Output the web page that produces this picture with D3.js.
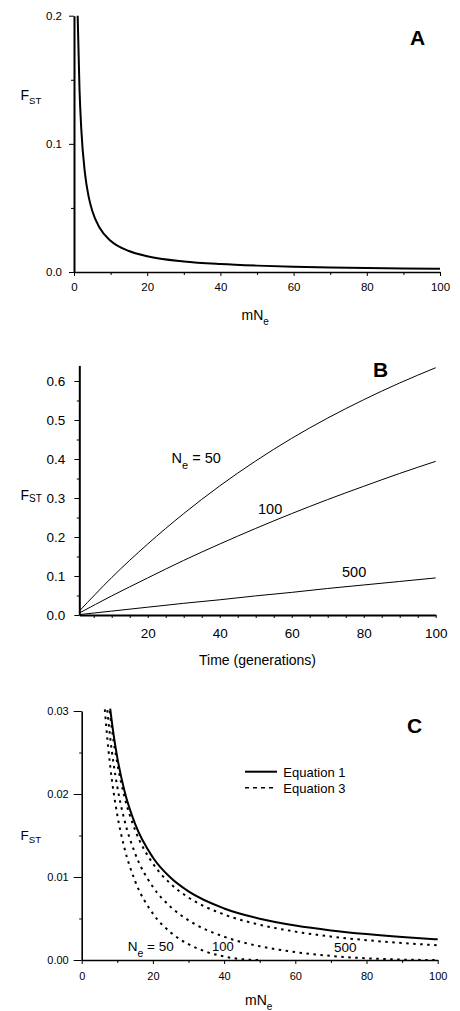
<!DOCTYPE html>
<html><head><meta charset="utf-8">
<script src="https://cdn.jsdelivr.net/npm/d3@7"></script>
<style>
body{margin:0;background:#fff}
svg{display:block}
text{font-family:"Liberation Sans",Arial,sans-serif;fill:#000}
</style>
</head><body>
<svg id="chart" width="460" height="1011"></svg>
<script>
// ---------- Panel A : FST vs mNe ----------
const aMNe = [1,1.5,2,3,4,5,7,10,15,20,30,40,50,60,70,80,90,100];
const aFst = [0.2,0.1429,0.1111,0.0769,0.0588,0.0476,0.0345,0.0244,0.0164,0.01235,0.00826,0.00621,0.004975,0.00415,0.00356,0.00312,0.00277,0.00249];
const aXTicks = [0,20,40,60,80,100];
const aXMinor = [10,30,50,70,90];
const aYTicks = [0.0,0.1,0.2];
const aYMinor = [0.05,0.15];

// ---------- Panel B : FST vs time ----------
const bTime = [1,10,20,30,40,50,60,70,80,90,100];
const bNe50  = [0.010,0.096,0.182,0.260,0.331,0.395,0.453,0.505,0.552,0.595,0.634];
const bNe100 = [0.005,0.049,0.095,0.140,0.182,0.222,0.260,0.296,0.330,0.363,0.394];
const bNe500 = [0.001,0.010,0.020,0.030,0.039,0.049,0.058,0.068,0.077,0.086,0.095];
const bXTicks = [20,40,60,80,100];
const bXMinor = [5,10,15,25,30,35,45,50,55,65,70,75,85,90,95];
const bYTicks = [0.0,0.1,0.2,0.3,0.4,0.5,0.6];
const bYMinor = [0.05,0.15,0.25,0.35,0.45,0.55];
const bLabels = ["100","500"];

// ---------- Panel C : Equation 1 vs Equation 3 ----------
const cEq1MNe = [8,9,10,12,15,20,25,30,40,50,60,70,80,90,100];
const cEq1Fst = [0.0303,0.02703,0.02439,0.0204,0.01639,0.01235,0.0099,0.00826,0.00621,0.004975,0.00415,0.00356,0.00312,0.00277,0.00249];
const cNe50MNe = [6.5,7,8,10,12,15,20,25,30,35,40,45,50];
const cNe50Fst = [0.0302,0.0276,0.0234,0.01747,0.01349,0.00952,0.00559,0.00332,0.0019,0.00099,0.00042,0.0001,0];
const cNe100MNe = [7.2,8,10,12,15,20,25,30,40,50,60,70,80,90,100];
const cNe100Fst = [0.0301,0.0268,0.02087,0.01687,0.01285,0.00881,0.00639,0.00478,0.0028,0.00166,0.00095,0.00049,0.00021,0.00005,0];
const cNe500MNe = [7.9,8,10,12,15,20,25,30,40,50,60,70,80,90,100];
const cNe500Fst = [0.0300,0.0296,0.02368,0.01969,0.01567,0.01162,0.00917,0.00753,0.00548,0.00425,0.00342,0.00283,0.00239,0.00205,0.00177];
const cXTicks = [0,20,40,60,80,100];
const cXMinor = [10,30,50,70,90];
const cYTicks = [0.00,0.01,0.02,0.03];
const cYMinor = [0.005,0.015,0.025];
const cLegend = ["Equation 1","Equation 3"];

const svg = d3.select("#chart");

function drawAxes(g, x, y, o) {
  g.append("g").attr("transform",`translate(0,${y.range()[0]})`)
    .call(d3.axisBottom(x).tickValues(o.xMinor).tickSize(o.xMinorLen).tickFormat("").tickSizeOuter(0))
    .call(s=>s.select(".domain").remove());
  g.append("g").attr("transform",`translate(${x.range()[0]},0)`)
    .call(d3.axisLeft(y).tickValues(o.yMinor).tickSize(o.yMinorLen).tickFormat("").tickSizeOuter(0))
    .call(s=>s.select(".domain").remove());
  const xa = g.append("g").attr("transform",`translate(0,${y.range()[0]})`)
    .call(d3.axisBottom(x).tickValues(o.xTicks).tickSize(o.xTickLen).tickPadding(o.xPad)
      .tickFormat(o.xFmt).tickSizeOuter(0));
  const ya = g.append("g").attr("transform",`translate(${x.range()[0]},0)`)
    .call(d3.axisLeft(y).tickValues(o.yTicks).tickSize(o.yTickLen).tickPadding(o.yPad)
      .tickFormat(o.yFmt).tickSizeOuter(0));
  [xa,ya].forEach(a=>{
    a.selectAll("text").attr("font-family",'"Liberation Sans",Arial,sans-serif').attr("fill","#000");
  });
  xa.selectAll("text").attr("font-size",o.xFont);
  ya.selectAll("text").attr("font-size",o.yFont);
  xa.select(".domain").attr("stroke","#000").attr("stroke-width",o.xAxisW);
  ya.select(".domain").attr("stroke","#000").attr("stroke-width",o.yAxisW);
  g.selectAll(".tick line").attr("stroke","#000").attr("stroke-width",1);
}

function fst(g, x, yb, fs, ss, dy) {
  const t = g.append("text").attr("x",x).attr("y",yb).attr("font-size",fs);
  t.append("tspan").text("F");
  t.append("tspan").attr("font-size",ss).attr("dy",dy).text("ST");
}
function sub(g, x, yb, fs, ss, dy, main, s, rest) {
  const t = g.append("text").attr("x",x).attr("y",yb).attr("font-size",fs);
  t.append("tspan").text(main);
  t.append("tspan").attr("font-size",ss).attr("dy",dy).text(s);
  if (rest) t.append("tspan").attr("dy",-dy).text(rest);
  return t;
}

// ===== Panel A =====
{
  const g = svg.append("g");
  const x = d3.scaleLinear().domain([0,100]).range([74,440]);
  const y = d3.scaleLinear().domain([0,0.2]).range([272,15.7]);
  drawAxes(g,x,y,{xTicks:aXTicks,xMinor:aXMinor,yTicks:aYTicks,yMinor:aYMinor,
    xTickLen:4,xMinorLen:3,xPad:7,yTickLen:5,yMinorLen:3,yPad:7,
    xFmt:d3.format("d"),yFmt:d3.format(".1f"),xFont:11.5,yFont:11.5,xAxisW:1.6,yAxisW:2});
  const line = d3.line().x((d,i)=>x(aMNe[i])).y(d=>y(d)).curve(d3.curveMonotoneX);
  g.append("path").datum(aFst).attr("d",line).attr("fill","none").attr("stroke","#000").attr("stroke-width",2);
  g.append("text").attr("x",410).attr("y",45).attr("font-size",21).attr("font-weight","bold").text("A");
  fst(g,20.5,100,14,9.6,3.5);
  sub(g,241.5,320,14,10,5,"mN","e");
}

// ===== Panel B =====
{
  const g = svg.append("g");
  const x = d3.scaleLinear().domain([1,100]).range([79.3,435.7]);
  const y = d3.scaleLinear().domain([0,0.64]).range([615,365.4]);
  drawAxes(g,x,y,{xTicks:bXTicks,xMinor:bXMinor,yTicks:bYTicks,yMinor:bYMinor,
    xTickLen:3,xMinorLen:3,xPad:10,yTickLen:5,yMinorLen:2.5,yPad:9,
    xFmt:d3.format("d"),yFmt:d3.format(".1f"),xFont:13.5,yFont:13.5,xAxisW:2,yAxisW:2});
  const series = [bNe50,bNe100,bNe500];
  const line = d3.line().x((d,i)=>x(bTime[i])).y(d=>y(d)).curve(d3.curveMonotoneX);
  g.selectAll("path.s").data(series).join("path").attr("class","s")
    .attr("d",line).attr("fill","none").attr("stroke","#000").attr("stroke-width",1);
  g.append("text").attr("x",373).attr("y",377).attr("font-size",21).attr("font-weight","bold").text("B");
  sub(g,171.5,463.3,14.5,11,5.5,"N","e"," = 50");
  g.append("text").attr("x",258).attr("y",514.3).attr("font-size",14.5).text(bLabels[0]);
  g.append("text").attr("x",342).attr("y",576.7).attr("font-size",14.5).text(bLabels[1]);
  fst(g,20.5,500,14,10,1.5);
  g.append("text").attr("x",257.5).attr("y",665).attr("font-size",14).attr("text-anchor","middle").text("Time (generations)");
}

// ===== Panel C =====
{
  const g = svg.append("g");
  const x = d3.scaleLinear().domain([0,100]).range([81.7,437.7]);
  const y = d3.scaleLinear().domain([0,0.03]).range([960,711]);
  drawAxes(g,x,y,{xTicks:cXTicks,xMinor:cXMinor,yTicks:cYTicks,yMinor:cYMinor,
    xTickLen:4,xMinorLen:3,xPad:8,yTickLen:8,yMinorLen:2.5,yPad:5,
    xFmt:d3.format("d"),yFmt:d3.format(".2f"),xFont:11,yFont:11,xAxisW:1.6,yAxisW:1.6});
  const mk = xs => d3.line().x((d,i)=>x(xs[i])).y(d=>y(d)).curve(d3.curveMonotoneX);
  const dotted = [[cNe50MNe,cNe50Fst],[cNe100MNe,cNe100Fst],[cNe500MNe,cNe500Fst]];
  dotted.forEach(([xs,ys])=>{
    g.append("path").datum(ys).attr("d",mk(xs)).attr("fill","none").attr("stroke","#000")
      .attr("stroke-width",2).attr("stroke-dasharray","2.5,4.5");
  });
  g.append("path").datum(cEq1Fst).attr("d",mk(cEq1MNe)).attr("fill","none").attr("stroke","#000").attr("stroke-width",2);
  g.append("text").attr("x",407).attr("y",733).attr("font-size",21).attr("font-weight","bold").text("C");
  g.append("line").attr("x1",245).attr("x2",277).attr("y1",771.7).attr("y2",771.7).attr("stroke","#000").attr("stroke-width",2);
  g.append("line").attr("x1",245).attr("x2",277).attr("y1",787.7).attr("y2",787.7).attr("stroke","#000").attr("stroke-width",1.6).attr("stroke-dasharray","4,4");
  g.append("text").attr("x",283.3).attr("y",776.5).attr("font-size",13).text(cLegend[0]);
  g.append("text").attr("x",283.3).attr("y",792.5).attr("font-size",13).text(cLegend[1]);
  sub(g,127.7,950.7,13.5,10.5,6,"N","e"," = 50");
  g.append("text").attr("x",212).attr("y",951).attr("font-size",13).text("100");
  g.append("text").attr("x",334).attr("y",951.5).attr("font-size",13.5).text("500");
  fst(g,20.5,839.5,13.5,9.6,3.5);
  sub(g,245,1005,14,10,5,"mN","e");
}
</script>
</body></html>
